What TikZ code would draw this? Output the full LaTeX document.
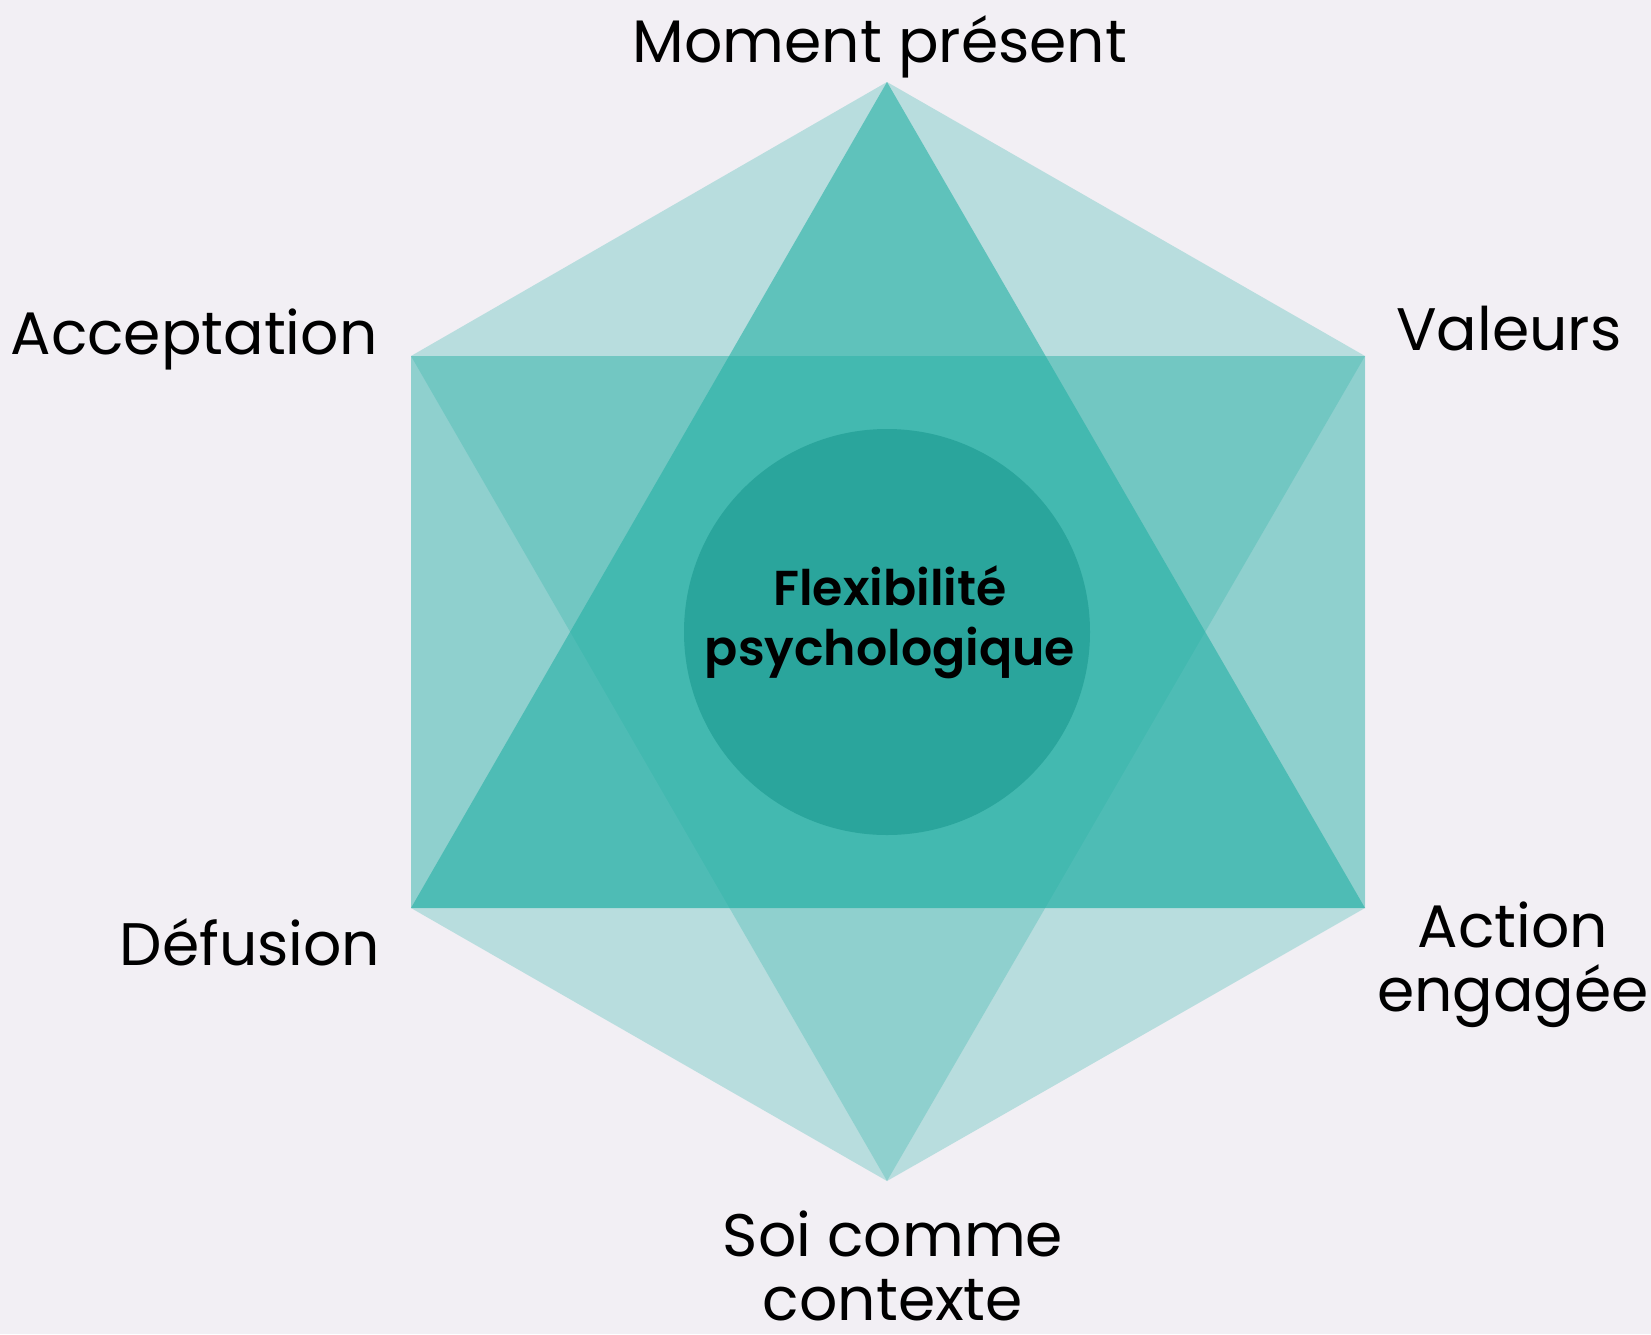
\documentclass[tikz,border=0pt]{standalone}
\usepackage{fontspec}
\setmainfont{Poppins}
\newfontfamily\coresemi{Poppins SemiBold}
\usetikzlibrary{positioning}
\definecolor{acteal}{RGB}{42,165,156}
\definecolor{facetteal}{RGB}{36,176,165}
\definecolor{paper}{RGB}{242,239,244}

\begin{document}
\begin{tikzpicture}[x=1pt,y=-1pt,
		facet/.style={fill=facetteal,fill opacity=#1},
		lbl/.style={anchor=base,align=center,text=black,font=\fontsize{60}{64}\selectfont},
		core/.style={circle,fill=acteal,minimum size=406pt,inner sep=0pt},
		coretxt/.style={anchor=base,align=center,text=black,font=\coresemi\fontsize{49}{60}\selectfont}]
		
		\fill[paper] (0,0) rectangle (1651,1334);
		\useasboundingbox (0,0) rectangle (1651,1334);
		
		\coordinate (top) at (887,82);
		\coordinate (ul) at (411,356);
		\coordinate (ur) at (1365,356);
		\coordinate (ll) at (411,908);
		\coordinate (lr) at (1365,908);
		\coordinate (bot) at (887,1181);
		
		\fill[facet=0.28] (top) -- (ur) -- (lr) -- (bot) -- (ll) -- (ul) -- cycle;
		\fill[facet=0.27] (ul) -- (ur) -- (lr) -- (ll) -- cycle;
		\fill[facet=0.27] (ul) -- (ur) -- (bot) -- cycle;
		\fill[facet=0.6] (top) -- (lr) -- (ll) -- cycle;
		
		\node[core] (core) at (887,632) {};
		\node[coretxt] (flex) at (890,665) {Flexibilité\\psychologique};
		
		\node[lbl] (moment) at (880,62) {Moment présent};
		\node[lbl] (accept) at (194,354) {Acceptation};
		\node[lbl] (valeurs) at (1509,350) {Valeurs};
		\node[lbl] (defusion) at (250,965) {Défusion};
		\node[lbl] (action) at (1513,1011) {Action\\engagée};
		\node[lbl] (soi) at (893,1320) {Soi comme\\contexte};
\end{tikzpicture}
\end{document}
